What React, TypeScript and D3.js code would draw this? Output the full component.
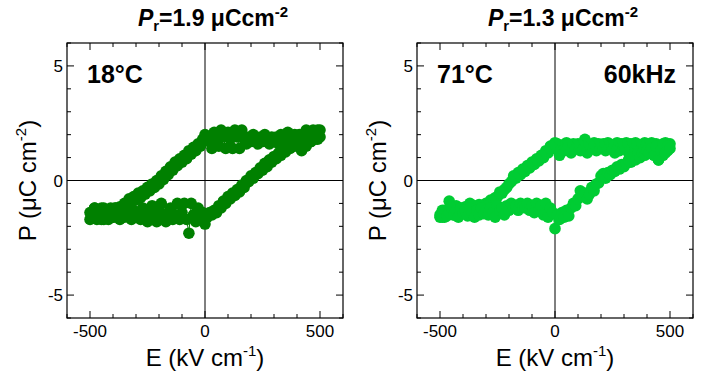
import React, { useRef, useEffect } from "react";
import * as d3 from "d3";

// field values of the sweep (kV/cm): down from +500 to -500, then back up
const eDown = [500, 490, 480, 470, 460, 450, 440, 430, 420, 410, 400, 390, 380, 370, 360, 350, 340, 330, 320, 310, 300, 290, 280, 270, 260, 250, 240, 230, 220, 210, 200, 190, 180, 170, 160, 150, 140, 130, 120, 110, 100, 90, 80, 70, 60, 50, 40, 30, 20, 10, 0, -10, -20, -30, -40, -50, -60, -70, -80, -90, -100, -110, -120, -130, -140, -150, -160, -170, -180, -190, -200, -210, -220, -230, -240, -250, -260, -270, -280, -290, -300, -310, -320, -330, -340, -350, -360, -370, -380, -390, -400, -410, -420, -430, -440, -450, -460, -470, -480, -490, -500];
const eUp = [-500, -490, -480, -470, -460, -450, -440, -430, -420, -410, -400, -390, -380, -370, -360, -350, -340, -330, -320, -310, -300, -290, -280, -270, -260, -250, -240, -230, -220, -210, -200, -190, -180, -170, -160, -150, -140, -130, -120, -110, -100, -90, -80, -70, -60, -50, -40, -30, -20, -10, 0, 10, 20, 30, 40, 50, 60, 70, 80, 90, 100, 110, 120, 130, 140, 150, 160, 170, 180, 190, 200, 210, 220, 230, 240, 250, 260, 270, 280, 290, 300, 310, 320, 330, 340, 350, 360, 370, 380, 390, 400, 410, 420, 430, 440, 450, 460, 470, 480, 490, 500];

// 18 °C polarization (µC/cm²)
const p18Down = [2.2, 1.8, 2.0, 2.1, 1.7, 1.9, 2.2, 1.8, 1.6, 2.0, 1.7,
  2.0, 1.7, 1.9, 2.1, 1.7, 1.8, 2.0, 1.6, 1.9, 1.7,
  1.9, 1.6, 1.8, 2.0, 1.7, 1.9, 1.6, 1.8, 2.0, 1.7,
  1.9, 1.6, 1.8, 2.2, 1.4, 1.9, 2.2, 1.4, 1.8, 2.1,
  1.4, 1.9, 2.2, 1.5, 1.8, 2.1, 1.4, 1.7, 1.9, 2.0,
  1.8, 1.5, 1.6, 1.3, 1.45, 1.15, 1.3, 0.95, 1.1, 0.8,
  0.95, 0.65, 0.8, 0.45, 0.6, 0.25, 0.4, 0.05, 0.2, -0.15,
  0.0, -0.3, -0.15, -0.45, -0.3, -0.6, -0.45, -0.75, -0.55, -0.85,
  -0.7, -0.95, -0.8, -1.1, -1.0, -1.3, -1.15, -1.5, -1.2, -1.6,
  -1.2, -1.6, -1.3, -1.7, -1.2, -1.5, -1.7, -1.2, -1.6, -1.4];
const p18Up = [-1.7, -1.4, -1.2, -1.6, -1.3, -1.7, -1.2, -1.5, -1.7, -1.3, -1.6,
  -1.2, -1.5, -1.7, -1.3, -1.6, -1.2, -1.4, -1.7, -1.3, -1.6,
  -1.4, -1.7, -1.2, -1.5, -1.8, -1.3, -1.1, -1.6, -1.8, -1.3,
  -1.0, -1.6, -1.8, -1.4, -1.2, -1.7, -1.5, -1.0, -1.7, -1.4,
  -1.0, -1.7, -2.3, -1.0, -1.5, -1.8, -1.2, -1.6, -1.4, -1.9,
  -1.6, -1.4, -1.5, -1.3, -1.4, -1.1, -1.2, -0.9, -1.0, -0.7,
  -0.8, -0.55, -0.65, -0.4, -0.5, -0.2, -0.3, 0.0, -0.05, 0.2,
  0.1, 0.35, 0.3, 0.55, 0.45, 0.75, 0.6, 0.9, 0.8, 1.05,
  0.95, 1.2, 1.1, 1.4, 1.25, 1.55, 1.4, 1.7, 1.5, 1.85,
  1.6, 1.3, 1.9, 1.5, 2.0, 1.7, 2.2, 1.8, 2.2, 1.9];

// 71 °C polarization (µC/cm²)
const p71Down = [1.6, 1.3, 1.65, 1.1, 1.5, 0.9, 1.6, 1.3, 1.65, 1.2, 1.5,
  1.65, 1.3, 1.55, 1.1, 1.65, 1.35, 1.6, 1.2, 1.65, 1.4,
  1.6, 1.3, 1.65, 1.2, 1.55, 1.4, 1.65, 1.3, 1.6, 1.45,
  1.6, 1.3, 1.65, 1.4, 1.55, 1.2, 1.8, 1.5, 1.3, 1.6,
  1.4, 1.6, 1.2, 1.5, 1.65, 1.3, 1.55, 1.1, 1.6, 1.65,
  1.4, 1.5, 1.2, 1.3, 1.0, 1.1, 0.85, 0.95, 0.7, 0.8,
  0.55, 0.65, 0.4, 0.5, 0.25, 0.35, 0.1, 0.2, -0.05, -0.15,
  -0.3, -0.4, -0.55, -0.5, -0.7, -0.75, -0.9, -0.85, -1.0, -1.0,
  -1.1, -1.2, -1.05, -1.3, -1.1, -1.25, -1.0, -1.3, -1.15, -1.3,
  -1.2, -1.4, -1.1, -1.5, -1.3, -0.9, -1.4, -1.6, -1.3, -1.6];
const p71Up = [-1.5, -1.6, -1.3, -1.55, -1.4, -1.2, -1.5, -1.3, -1.6, -1.2, -1.4,
  -1.3, -1.55, -1.2, -1.4, -1.6, -1.3, -1.5, -1.2, -1.45, -1.3,
  -1.5, -1.2, -1.4, -1.6, -1.1, -1.3, -1.2, -1.5, -1.1, -1.3,
  -1.0, -1.2, -1.1, -1.3, -1.0, -1.15, -1.2, -1.0, -1.3, -1.1,
  -1.4, -1.0, -1.3, -1.1, -1.5, -1.0, -1.6, -1.2, -1.4, -2.1,
  -1.5, -1.7, -1.4, -1.6, -1.3, -1.55, -1.2, -1.0, -1.1, -0.8,
  -0.45, -0.7, -0.55, -0.8, -0.6, -0.3, -0.45, -0.15, -0.1, 0.2,
  0.3, 0.1, 0.35, 0.25, 0.45, 0.4, 0.6, 0.5, 0.7, 0.6,
  0.75, 0.9, 0.8, 1.0, 0.9, 1.15, 1.0, 1.2, 1.1, 1.3,
  1.2, 1.4, 1.1, 1.5, 0.9, 1.3, 1.6, 1.2, 1.5, 1.4];

const panels = [
  { left: 67, p: p18Down.concat(p18Up), color: "#008000", pr: "1.9", temp: "18°C", freq: "" },
  { left: 417, p: p71Down.concat(p71Up), color: "#00cc33", pr: "1.3", temp: "71°C", freq: "60kHz" },
];
const eAll = eDown.concat(eUp);

const majorX = [-500, 0, 500];
const majorY = [-5, 0, 5];

const W = 703;
const H = 376;
const top = 43;
const bottom = 318;
const pw = 276;
const font = "'Liberation Sans', Arial, sans-serif";

export default function App() {
  const ref = useRef<SVGSVGElement>(null);

  useEffect(() => {
    const svg = d3.select(ref.current);
    svg.selectAll("*").remove();

    panels.forEach((pn) => {
      const x = d3.scaleLinear().domain([-600, 600]).range([pn.left, pn.left + pw]);
      const y = d3.scaleLinear().domain([-6, 6]).range([bottom, top]);
      const g = svg.append("g");

      // zero lines
      g.append("line").attr("x1", x(-600)).attr("x2", x(600)).attr("y1", y(0)).attr("y2", y(0)).attr("stroke", "#000");
      g.append("line").attr("x1", x(0)).attr("x2", x(0)).attr("y1", y(-6)).attr("y2", y(6)).attr("stroke", "#000");

      // inward ticks on all four sides
      x.ticks(12).forEach((t) => {
        const len = majorX.includes(t) ? 7 : 4;
        g.append("line").attr("x1", x(t)).attr("x2", x(t)).attr("y1", bottom).attr("y2", bottom - len).attr("stroke", "#000");
        g.append("line").attr("x1", x(t)).attr("x2", x(t)).attr("y1", top).attr("y2", top + len).attr("stroke", "#000");
      });
      y.ticks(12).forEach((t) => {
        const len = majorY.includes(t) ? 7 : 4;
        g.append("line").attr("x1", pn.left).attr("x2", pn.left + len).attr("y1", y(t)).attr("y2", y(t)).attr("stroke", "#000");
        g.append("line").attr("x1", pn.left + pw).attr("x2", pn.left + pw - len).attr("y1", y(t)).attr("y2", y(t)).attr("stroke", "#000");
      });

      g.append("rect")
        .attr("x", pn.left).attr("y", top).attr("width", pw).attr("height", bottom - top)
        .attr("fill", "none").attr("stroke", "#000").attr("stroke-width", 1.2);

      // tick labels
      majorX.forEach((t) => {
        g.append("text").attr("x", x(t)).attr("y", 337).attr("text-anchor", "middle")
          .attr("font-family", font).attr("font-size", 17).text(t);
      });
      majorY.forEach((t) => {
        g.append("text").attr("x", pn.left - 4).attr("y", y(t) + 6).attr("text-anchor", "end")
          .attr("font-family", font).attr("font-size", 17).text(t);
      });

      // data: thin connecting line, then markers
      const idx = d3.range(eAll.length);
      const line = d3.line<number>().x((i) => x(eAll[i])).y((i) => y(pn.p[i]));
      g.append("path").datum(idx).attr("d", line).attr("fill", "none").attr("stroke", pn.color).attr("stroke-width", 1);
      g.selectAll("circle.pt").data(idx).enter().append("circle")
        .attr("cx", (i) => x(eAll[i])).attr("cy", (i) => y(pn.p[i])).attr("r", 5.8).attr("fill", pn.color);

      // axis titles
      const xl = g.append("text").attr("x", x(0)).attr("y", 366).attr("text-anchor", "middle")
        .attr("font-family", font).attr("font-size", 24);
      xl.append("tspan").text("E (kV cm");
      xl.append("tspan").attr("dy", -10).attr("font-size", 15).text("-1");
      xl.append("tspan").attr("dy", 10).text(")");

      const yl = g.append("text").attr("transform", `translate(${pn.left - 31},${y(0)}) rotate(-90)`)
        .attr("text-anchor", "middle").attr("font-family", font).attr("font-size", 24);
      yl.append("tspan").text("P (μC cm");
      yl.append("tspan").attr("dy", -10).attr("font-size", 15).text("-2");
      yl.append("tspan").attr("dy", 10).text(")");

      // panel title
      const tt = g.append("text").attr("x", x(0) + 8).attr("y", 26).attr("text-anchor", "middle")
        .attr("font-family", font).attr("font-size", 23).attr("font-weight", "bold");
      tt.append("tspan").attr("font-style", "italic").text("P");
      tt.append("tspan").attr("dy", 5).attr("font-size", 15).text("r");
      tt.append("tspan").attr("dy", -5).text(`=${pn.pr} μCcm`);
      tt.append("tspan").attr("dy", -9).attr("font-size", 15).text("-2");

      // annotations
      g.append("text").attr("x", pn.left + 20).attr("y", 83)
        .attr("font-family", font).attr("font-size", 25).attr("font-weight", "bold").text(pn.temp);
      if (pn.freq) {
        g.append("text").attr("x", pn.left + pw - 17).attr("y", 83).attr("text-anchor", "end")
          .attr("font-family", font).attr("font-size", 25).attr("font-weight", "bold").text(pn.freq);
      }
    });
  }, []);

  return (
    <svg ref={ref} width={W} height={H} style={{ position: "absolute", left: 0, top: 0, background: "#fff" }}></svg>
  );
}
